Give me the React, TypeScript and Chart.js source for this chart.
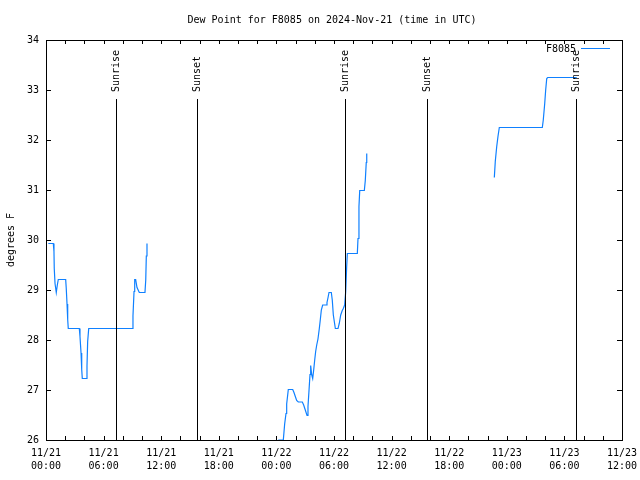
import React, { useEffect, useRef } from "react";
import { Chart, registerables } from "chart.js";

Chart.register(...registerables);

const TITLE = "Dew Point for F8085 on 2024-Nov-21 (time in UTC)";
const Y_LABEL = "degrees F";
const SERIES_NAME = "F8085";

// hours since 2024-11-21 00:00 UTC
const seg1Hours = [0.24, 0.76, 0.83, 0.86, 0.94, 1.07, 1.18, 1.28, 2.05, 2.11, 2.19, 2.26, 2.32, 3.47, 3.54, 3.65, 3.72, 3.78, 4.2, 4.27, 4.34, 4.45, 8.99, 9.06, 9.17, 9.24, 9.34, 9.48, 9.72, 10.31, 10.39, 10.45, 10.52];
const seg1Values = [29.93, 29.93, 29.77, 29.43, 29.13, 28.95, 29.1, 29.21, 29.21, 29.03, 28.72, 28.41, 28.23, 28.23, 28.07, 27.74, 27.41, 27.23, 27.23, 27.48, 27.97, 28.23, 28.23, 28.48, 28.97, 29.21, 29.21, 29.05, 28.95, 28.95, 29.2, 29.68, 29.93];

const seg2Hours = [24.2, 24.72, 24.86, 25.0, 25.07, 25.24, 25.7, 25.83, 25.97, 26.11, 26.28, 26.7, 26.84, 27.01, 27.19, 27.29, 27.4, 27.5, 27.57, 27.68, 27.78, 27.89, 27.99, 28.09, 28.2, 28.33, 28.47, 28.57, 28.68, 28.82, 29.17, 29.27, 29.38, 29.48, 29.72, 29.82, 29.93, 30.14, 30.42, 30.55, 30.7, 30.86, 30.97, 31.11, 31.22, 31.32, 31.39, 32.43, 32.5, 32.6, 32.68, 33.16, 33.26, 33.36, 33.41];
const seg2Values = [26.0, 26.0, 26.32, 26.53, 26.72, 27.01, 27.01, 26.95, 26.87, 26.79, 26.76, 26.76, 26.7, 26.6, 26.49, 26.67, 27.0, 27.31, 27.49, 27.3, 27.23, 27.41, 27.6, 27.77, 27.9, 28.02, 28.23, 28.4, 28.6, 28.7, 28.7, 28.75, 28.85, 28.95, 28.95, 28.8, 28.5, 28.23, 28.23, 28.33, 28.5, 28.59, 28.63, 28.7, 28.97, 29.47, 29.73, 29.73, 30.03, 30.67, 30.99, 30.99, 31.19, 31.55, 31.73];

const seg3Hours = [46.7, 46.8, 46.95, 47.08, 47.22, 51.7, 51.8, 51.95, 52.05, 52.16, 52.26, 55.28];
const seg3Values = [31.25, 31.57, 31.87, 32.07, 32.25, 32.25, 32.4, 32.73, 33.0, 33.23, 33.25, 33.25];

const xTickDates = ["11/21", "11/21", "11/21", "11/21", "11/22", "11/22", "11/22", "11/22", "11/23", "11/23", "11/23"];
const xTickTimes = ["00:00", "06:00", "12:00", "18:00", "00:00", "06:00", "12:00", "18:00", "00:00", "06:00", "12:00"];

const sunLabels = ["Sunrise", "Sunset", "Sunrise", "Sunset", "Sunrise"];
const sunHours = [7.25, 15.75, 31.15, 39.7, 55.2];

const FONT = "DejaVu Sans Mono";
const LINE_COLOR = "#0f80ff";

function buildData() {
  const segs = [
    [seg1Hours, seg1Values],
    [seg2Hours, seg2Values],
    [seg3Hours, seg3Values],
  ];
  const out: { x: number; y: number | null }[] = [];
  segs.forEach(([hs, vs], i) => {
    if (i > 0) out.push({ x: (hs[0] + out[out.length - 1].x) / 2, y: null });
    hs.forEach((h, j) => out.push({ x: h, y: vs[j] }));
  });
  return out;
}

const decorPlugin = {
  id: "decor",
  afterDatasetsDraw(chart: any) {
    const { ctx, chartArea, scales } = chart;
    const { left, right, top, bottom } = chartArea;
    const x = scales.x;
    const y = scales.y;
    ctx.save();
    ctx.strokeStyle = "#000";
    ctx.lineWidth = 1;
    // sun events
    ctx.fillStyle = "#000";
    ctx.font = `10px "${FONT}"`;
    sunHours.forEach((h, i) => {
      const px = Math.round(x.getPixelForValue(h)) + 0.5;
      ctx.beginPath();
      ctx.moveTo(px, 99);
      ctx.lineTo(px, bottom);
      ctx.stroke();
      ctx.save();
      ctx.translate(px, 92);
      ctx.rotate(-Math.PI / 2);
      ctx.textAlign = "left";
      ctx.textBaseline = "middle";
      ctx.fillText(sunLabels[i], 0, 0);
      ctx.restore();
    });
    // frame
    ctx.strokeRect(left + 0.5, top + 0.5, right - left, bottom - top);
    // y ticks
    for (let v = 26; v <= 34; v += 1) {
      const py = Math.round(y.getPixelForValue(v)) + 0.5;
      ctx.beginPath();
      ctx.moveTo(left, py);
      ctx.lineTo(left + 5, py);
      ctx.moveTo(right - 5, py);
      ctx.lineTo(right, py);
      ctx.stroke();
    }
    // x ticks (every 2h)
    for (let h = 0; h <= 60; h += 2) {
      const px = Math.round(x.getPixelForValue(h)) + 0.5;
      const len = 4;
      ctx.beginPath();
      ctx.moveTo(px, bottom);
      ctx.lineTo(px, bottom - len);
      ctx.moveTo(px, top);
      ctx.lineTo(px, top + len);
      ctx.stroke();
    }
    // legend
    ctx.textAlign = "right";
    ctx.textBaseline = "middle";
    ctx.fillText(SERIES_NAME, 576, 49);
    ctx.strokeStyle = LINE_COLOR;
    ctx.beginPath();
    ctx.moveTo(581, 48.5);
    ctx.lineTo(610, 48.5);
    ctx.stroke();
    // title
    ctx.fillStyle = "#000";
    ctx.textAlign = "center";
    ctx.fillText(TITLE, 332, 20);
    // y label
    ctx.save();
    ctx.translate(11, 240);
    ctx.rotate(-Math.PI / 2);
    ctx.textAlign = "center";
    ctx.textBaseline = "middle";
    ctx.fillText(Y_LABEL, 0, 0);
    ctx.restore();
    ctx.restore();
  },
};

export default function App() {
  const ref = useRef<HTMLCanvasElement | null>(null);
  useEffect(() => {
    document.body.style.margin = "0";
    const canvas = ref.current;
    if (!canvas) return;
    const chart = new Chart(canvas, {
      type: "line",
      data: {
        datasets: [
          {
            label: SERIES_NAME,
            data: buildData() as any,
            borderColor: LINE_COLOR,
            borderWidth: 1.2,
            pointRadius: 0,
            spanGaps: false,
            tension: 0,
            fill: false,
          },
        ],
      },
      options: {
        animation: false,
        responsive: false,
        devicePixelRatio: 1,
        layout: { padding: { left: 0, top: 40, right: 18, bottom: 0 } },
        plugins: { legend: { display: false }, title: { display: false }, tooltip: { enabled: false } },
        scales: {
          x: {
            type: "linear",
            min: 0,
            max: 60,
            afterFit: (s: any) => {
              s.height = 40;
              s.paddingLeft = 0;
              s.paddingRight = 0;
            },
            grid: { display: false, drawTicks: false },
            border: { display: false },
            ticks: {
              stepSize: 6,
              padding: 7,
              color: "#000",
              maxRotation: 0,
              autoSkip: false,
              font: { family: FONT, size: 10, lineHeight: 1.3 },
              callback: (v: any) => {
                const i = Math.round(Number(v) / 6);
                return [xTickDates[i], xTickTimes[i]];
              },
            },
          },
          y: {
            type: "linear",
            min: 26,
            max: 34,
            afterFit: (s: any) => {
              s.width = 46;
              s.paddingTop = 0;
              s.paddingBottom = 0;
            },
            grid: { display: false, drawTicks: false },
            border: { display: false },
            ticks: {
              stepSize: 1,
              padding: 7,
              color: "#000",
              font: { family: FONT, size: 10 },
            },
          },
        },
      },
      plugins: [decorPlugin],
    });
    return () => chart.destroy();
  }, []);
  return (
    <div style={{ position: "absolute", left: 0, top: 0, width: 640, height: 480, background: "#fff" }}>
      <canvas ref={ref} width={640} height={480} />
    </div>
  );
}
